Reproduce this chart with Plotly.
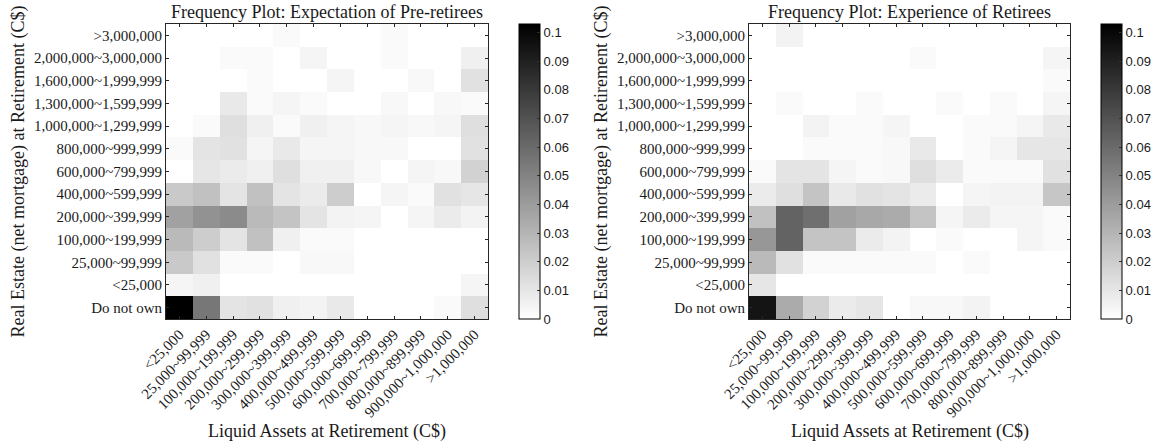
import plotly.graph_objects as go

# Category labels
liquid_assets = ["<25,000", "25,000~99,999", "100,000~199,999", "200,000~299,999",
                 "300,000~399,999", "400,000~499,999", "500,000~599,999",
                 "600,000~699,999", "700,000~799,999", "800,000~899,999",
                 "900,000~1,000,000", ">1,000,000"]
real_estate = ["Do not own", "<25,000", "25,000~99,999", "100,000~199,999",
               "200,000~399,999", "400,000~599,999", "600,000~799,999",
               "800,000~999,999", "1,000,000~1,299,999", "1,300,000~1,599,999",
               "1,600,000~1,999,999", "2,000,000~3,000,000", ">3,000,000"]

# Frequencies, one row per real-estate category (bottom to top)
pre_retirees = [
    [0.103, 0.055, 0.011, 0.012, 0.006, 0.005, 0.009, 0, 0, 0, 0.002, 0.013],
    [0.004, 0.006, 0, 0, 0, 0, 0, 0, 0, 0, 0, 0.004],
    [0.022, 0.012, 0.002, 0.002, 0, 0.003, 0.003, 0, 0, 0, 0, 0],
    [0.028, 0.020, 0.011, 0.025, 0.006, 0.002, 0.002, 0, 0, 0, 0, 0],
    [0.038, 0.044, 0.047, 0.028, 0.024, 0.011, 0.005, 0.004, 0, 0.004, 0.008, 0.005],
    [0.022, 0.025, 0.011, 0.025, 0.011, 0.008, 0.020, 0, 0.004, 0.002, 0.012, 0.010],
    [0, 0.010, 0.008, 0.006, 0.013, 0.006, 0.006, 0.003, 0, 0.004, 0.003, 0.018],
    [0.002, 0.011, 0.012, 0.004, 0.009, 0.004, 0.004, 0.003, 0.003, 0, 0, 0.012],
    [0, 0.002, 0.013, 0.006, 0.002, 0.006, 0.004, 0.003, 0.004, 0.003, 0.004, 0.013],
    [0, 0, 0.009, 0.002, 0.004, 0.002, 0, 0, 0.003, 0, 0.003, 0.002],
    [0, 0, 0, 0.002, 0, 0, 0.004, 0, 0, 0.003, 0, 0.012],
    [0, 0, 0.002, 0.002, 0, 0.004, 0, 0, 0.002, 0, 0, 0.006],
    [0, 0, 0, 0, 0.002, 0, 0, 0, 0.002, 0, 0, 0],
]
retirees = [
    [0.095, 0.034, 0.018, 0.008, 0.010, 0, 0.003, 0.003, 0.005, 0, 0, 0],
    [0.010, 0, 0, 0, 0, 0, 0, 0, 0, 0, 0, 0],
    [0.028, 0.012, 0.002, 0.002, 0.002, 0.002, 0.002, 0, 0.002, 0, 0, 0],
    [0.042, 0.063, 0.024, 0.024, 0.008, 0.005, 0, 0.002, 0, 0, 0.004, 0.002],
    [0.025, 0.063, 0.058, 0.038, 0.035, 0.034, 0.024, 0.004, 0.008, 0.004, 0.004, 0.002],
    [0.008, 0.013, 0.024, 0.009, 0.012, 0.011, 0.008, 0, 0.004, 0.005, 0.005, 0.023],
    [0.002, 0.011, 0.011, 0.004, 0.002, 0.003, 0.013, 0.008, 0.002, 0.002, 0.002, 0.012],
    [0, 0, 0.002, 0.002, 0.002, 0.003, 0.009, 0, 0.002, 0.004, 0.010, 0.010],
    [0, 0, 0.005, 0.002, 0.002, 0.004, 0, 0, 0.002, 0.002, 0.004, 0.009],
    [0, 0.002, 0, 0, 0.002, 0, 0, 0.002, 0, 0.002, 0, 0.004],
    [0, 0, 0, 0, 0, 0, 0, 0, 0, 0, 0, 0.002],
    [0, 0, 0, 0, 0, 0, 0.002, 0, 0, 0, 0, 0.004],
    [0, 0.005, 0, 0, 0, 0, 0, 0, 0, 0, 0, 0],
]
cbar_ticks = [0, 0.01, 0.02, 0.03, 0.04, 0.05, 0.06, 0.07, 0.08, 0.09, 0.1]

W, H = 1158, 442
SERIF = "Liberation Serif"
SANS = "Liberation Sans"
INK = "#1a1a1a"

def px(x):
    return x / W

def py(y):
    return 1 - y / H

y_bottom, y_top = py(319), py(24)
gray = [[0, "#ffffff"], [1, "#000000"]]

def cbar(left):
    return dict(
        x=px(left), xanchor="left", xpad=0,
        y=y_bottom, yanchor="bottom", ypad=0,
        len=y_top - y_bottom, lenmode="fraction",
        thickness=21, thicknessmode="pixels",
        outlinecolor="#000000", outlinewidth=1,
        tickmode="array", tickvals=cbar_ticks,
        ticktext=[f"{t:g}" for t in cbar_ticks],
        ticks="inside", ticklen=3, tickcolor="#333333",
        tickfont=dict(family=SANS, size=13, color=INK),
    )

fig = go.Figure()
fig.add_trace(go.Heatmap(
    z=pre_retirees, x=liquid_assets, y=real_estate,
    colorscale=gray, zmin=0, zmax=0.103,
    colorbar=cbar(519), xaxis="x", yaxis="y", hoverinfo="skip",
))
fig.add_trace(go.Heatmap(
    z=retirees, x=liquid_assets, y=real_estate,
    colorscale=gray, zmin=0, zmax=0.103,
    colorbar=cbar(1101), xaxis="x2", yaxis="y2", hoverinfo="skip",
))

axis_common = dict(
    type="category", showline=True, linecolor="#262626", linewidth=1,
    mirror="allticks", ticks="inside", ticklen=3, tickcolor="#262626",
    showgrid=False, zeroline=False, automargin=False,
    tickfont=dict(family=SERIF, size=15, color=INK),
)
y_title = dict(text="Real Estate (net mortgage) at Retirement (C$)", standoff=4,
               font=dict(family=SERIF, size=18, color=INK))

fig.update_layout(
    width=W, height=H,
    margin=dict(l=0, r=0, t=0, b=0, autoexpand=False),
    paper_bgcolor="#ffffff", plot_bgcolor="#ffffff",
    xaxis=dict(domain=[px(166), px(488)], anchor="y", tickangle=-45, **axis_common),
    yaxis=dict(domain=[y_bottom, y_top], anchor="x", title=y_title, **axis_common),
    xaxis2=dict(domain=[px(749), px(1070)], anchor="y2", tickangle=-45, **axis_common),
    yaxis2=dict(domain=[y_bottom, y_top], anchor="x2", title=y_title, **axis_common),
)

titles = [
    ((166 + 488) / 2, "Frequency Plot: Expectation of Pre-retirees"),
    ((749 + 1070) / 2, "Frequency Plot: Experience of Retirees"),
]
for cx, text in titles:
    fig.add_annotation(x=px(cx), y=py(12), xref="paper", yref="paper",
                       text=text, showarrow=False,
                       xanchor="center", yanchor="middle",
                       font=dict(family=SERIF, size=18, color=INK))
    fig.add_annotation(x=px(cx), y=py(431), xref="paper", yref="paper",
                       text="Liquid Assets at Retirement (C$)", showarrow=False,
                       xanchor="center", yanchor="middle",
                       font=dict(family=SERIF, size=18, color=INK))

fig.write_html("out.html")
